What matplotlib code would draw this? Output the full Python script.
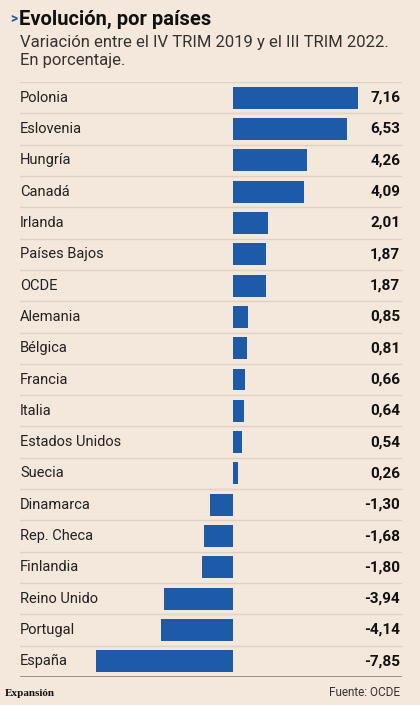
import numpy as np
import matplotlib
matplotlib.use('Agg')
import matplotlib.pyplot as plt
import matplotlib.transforms as mtransforms

# data
paises = ['Polonia', 'Eslovenia', 'Hungría', 'Canadá', 'Irlanda', 'Países Bajos',
          'OCDE', 'Alemania', 'Bélgica', 'Francia', 'Italia', 'Estados Unidos',
          'Suecia', 'Dinamarca', 'Rep. Checa', 'Finlandia', 'Reino Unido',
          'Portugal', 'España']
valores = [7.16, 6.53, 4.26, 4.09, 2.01, 1.87, 1.87, 0.85, 0.81, 0.66, 0.64,
           0.54, 0.26, -1.30, -1.68, -1.80, -3.94, -4.14, -7.85]

bg = '#f4e8dc'
azul = '#1d5ba8'
linea = '#dcd2c6'

plt.rcParams['font.family'] = ['Roboto', 'DejaVu Sans']

fig = plt.figure(figsize=(4.2, 7.05), dpi=100, facecolor=bg)

# title block
fig.text(10/420, 1 - 19/705, '>', color=azul, fontsize=10, fontweight='bold', va='center')
fig.text(19/420, 1 - 19/705, 'Evolución, por países', fontsize=14.5, fontweight='bold',
         family=['Liberation Sans Narrow', 'Roboto'], color='#111111', va='center')
fig.text(20/420, 1 - 43/705, 'Variación entre el IV TRIM 2019 y el III TRIM 2022.',
         fontsize=12, color='#333333', va='center')
fig.text(20/420, 1 - 60/705, 'En porcentaje.', fontsize=12, color='#333333', va='center')

# main axes
ax = fig.add_axes([20/420, 1 - 677/705, 382/420, (677 - 82)/705])
ax.set_facecolor(bg)
y = np.arange(len(paises))
ax.barh(y, valores, height=0.7, color=azul, zorder=2)
ax.set_xlim(-12.24, 9.71)
ax.set_ylim(len(paises) - 0.5, -0.5)
for i in range(len(paises)):
    ax.axhline(i - 0.5, color=linea, lw=1, zorder=1)
ax.axhline(len(paises) - 0.5, color='#8a8078', lw=1.2, zorder=1)

trans = mtransforms.blended_transform_factory(ax.transAxes, ax.transData)
for i, (p, v) in enumerate(zip(paises, valores)):
    ax.text(0.0, i, p, transform=trans, ha='left', va='center', fontsize=10.5,
            color='#222222')
    ax.text(0.995, i, ('%.2f' % v).replace('.', ','), transform=trans, ha='right',
            va='center', fontsize=11, fontweight='bold', color='#111111')
ax.axis('off')

# footer
fig.text(5/420, 1 - 693/705, 'Expansión', fontsize=8, fontweight='bold',
         family=['Liberation Serif', 'DejaVu Serif'], color='#111111', va='center')
fig.text(400/420, 1 - 693/705, 'Fuente: OCDE', fontsize=8.5, color='#333333',
         ha='right', va='center')

fig.savefig('out.png', dpi=100, facecolor=bg)
